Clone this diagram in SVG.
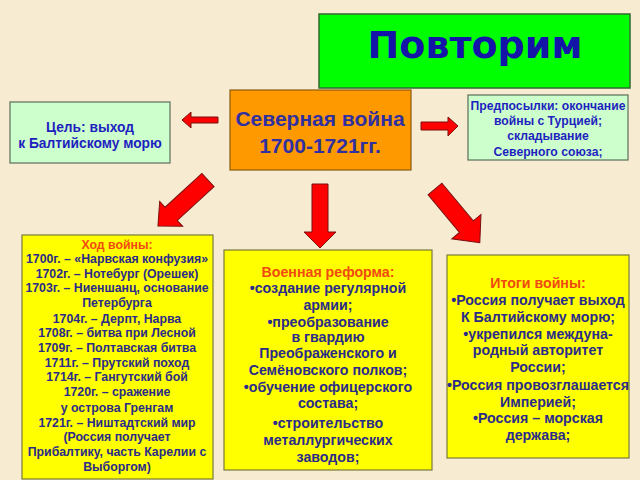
<svg xmlns="http://www.w3.org/2000/svg" width="640" height="480" viewBox="0 0 640 480">
<defs>
<style>
.t{font-family:"Liberation Sans",Arial,sans-serif;font-weight:bold;text-anchor:middle}
.y{fill:#ffff00;stroke:#7a7a3a;stroke-width:1.2}
.g{fill:#ccffcc;stroke:#5a6e5a;stroke-width:1.2}
.b{fill:#1f1fc0}
.d{fill:#2b2b8a}
.h{fill:#f04a10}
.arr{fill:#ff0000;stroke:#7a1010;stroke-width:1}
</style>
</defs>
<rect width="640" height="480" fill="#f7ebd2"/>
<g id="title">
<rect x="319" y="14" width="311" height="74" fill="#00ff00" stroke="#2f6a2f" stroke-width="1.5"/>
<text x="475" y="58" style="font-family:'DejaVu Sans',Verdana,sans-serif;font-weight:bold;font-size:38px;text-anchor:middle" fill="#1414a8">Повторим</text>
</g>
<g id="center">
<rect x="230" y="90" width="181" height="80" fill="#ff9900" stroke="#8a5a10" stroke-width="1.2"/>
<text class="t" x="320" y="126" font-size="21" fill="#3030a0">Северная война</text>
<text class="t" x="320" y="153" font-size="21" fill="#3030a0">1700-1721гг.</text>
</g>
<g id="goal">
<rect class="g" x="10" y="102" width="160" height="61"/>
<text class="t b" x="90" y="132" font-size="13.8">Цель: выход</text>
<text class="t b" x="90" y="148" font-size="13.8">к Балтийскому морю</text>
</g>
<g id="premises">
<rect class="g" x="468" y="95" width="160" height="65"/>
<text class="t b" x="548" y="110" font-size="12.2">Предпосылки: окончание</text>
<text class="t b" x="548" y="125" font-size="12.2">войны с Турцией;</text>
<text class="t b" x="548" y="140" font-size="12.2">складывание</text>
<text class="t b" x="548" y="156" font-size="12.2">Северного союза;</text>
</g>
<g id="course">
<rect class="y" x="22" y="235" width="191" height="244"/>
<g class="t" font-size="12.3">
<text class="h" x="117" y="249">Ход войны:</text>
<text class="d" x="117" y="263">1700г. – «Нарвская конфузия»</text>
<text class="d" x="117" y="278">1702г. – Нотебург (Орешек)</text>
<text class="d" x="117" y="292">1703г. – Ниеншанц, основание</text>
<text class="d" x="117" y="307">Петербурга</text>
<text class="d" x="117" y="323">1704г. – Дерпт, Нарва</text>
<text class="d" x="117" y="337">1708г. – битва при Лесной</text>
<text class="d" x="117" y="352">1709г. – Полтавская битва</text>
<text class="d" x="117" y="367">1711г. – Прутский поход</text>
<text class="d" x="117" y="381">1714г. – Гангутский бой</text>
<text class="d" x="117" y="396">1720г. – сражение</text>
<text class="d" x="117" y="412">у острова Гренгам</text>
<text class="d" x="117" y="427">1721г. – Ништадтский мир</text>
<text class="d" x="117" y="441">(Россия получает</text>
<text class="d" x="117" y="456">Прибалтику, часть Карелии с</text>
<text class="d" x="117" y="471">Выборгом)</text>
</g>
</g>
<g id="reform">
<rect class="y" x="224" y="250" width="208" height="220"/>
<g class="t" font-size="14.2">
<text class="h" x="328" y="277">Военная реформа:</text>
<text class="d" x="328" y="293">•создание регулярной</text>
<text class="d" x="328" y="310">армии;</text>
<text class="d" x="328" y="327">•преобразование</text>
<text class="d" x="328" y="342">в гвардию</text>
<text class="d" x="328" y="358">Преображенского и</text>
<text class="d" x="328" y="375">Семёновского полков;</text>
<text class="d" x="328" y="392">•обучение офицерского</text>
<text class="d" x="328" y="408">состава;</text>
<text class="d" x="328" y="428">•строительство</text>
<text class="d" x="328" y="445">металлургических</text>
<text class="d" x="328" y="462">заводов;</text>
</g>
</g>
<g id="results">
<rect class="y" x="447" y="255" width="182" height="203"/>
<g class="t" font-size="14.2">
<text class="h" x="538" y="288">Итоги войны:</text>
<text class="d" x="538" y="305">•Россия получает выход</text>
<text class="d" x="538" y="322">К Балтийскому морю;</text>
<text class="d" x="538" y="339">•укрепился междуна-</text>
<text class="d" x="538" y="355">родный авторитет</text>
<text class="d" x="538" y="372">России;</text>
<text class="d" x="538" y="390">•Россия провозглашается</text>
<text class="d" x="538" y="407">Империей;</text>
<text class="d" x="538" y="423">•Россия – морская</text>
<text class="d" x="538" y="440">держава;</text>
</g>
</g>
<g id="connectors">
<polygon class="arr" points="218,117 191,117 191,112 182,120 191,128 191,123 218,123"/>
<polygon class="arr" points="421,122 448,122 448,117 458,126 448,136 448,130 421,130"/>
<polygon class="arr" transform="translate(208,180) rotate(137.4)" points="0,-9 50,-9 50,-17 68,0 50,17 50,9 0,9"/>
<polygon class="arr" transform="translate(320,184) rotate(90)" points="0,-8 48,-8 48,-16 64,0 48,16 48,8 0,8"/>
<polygon class="arr" transform="translate(435,189) rotate(50.2)" points="0,-9 49,-9 49,-19 70,0 49,19 49,9 0,9"/>
</g>
</svg>
